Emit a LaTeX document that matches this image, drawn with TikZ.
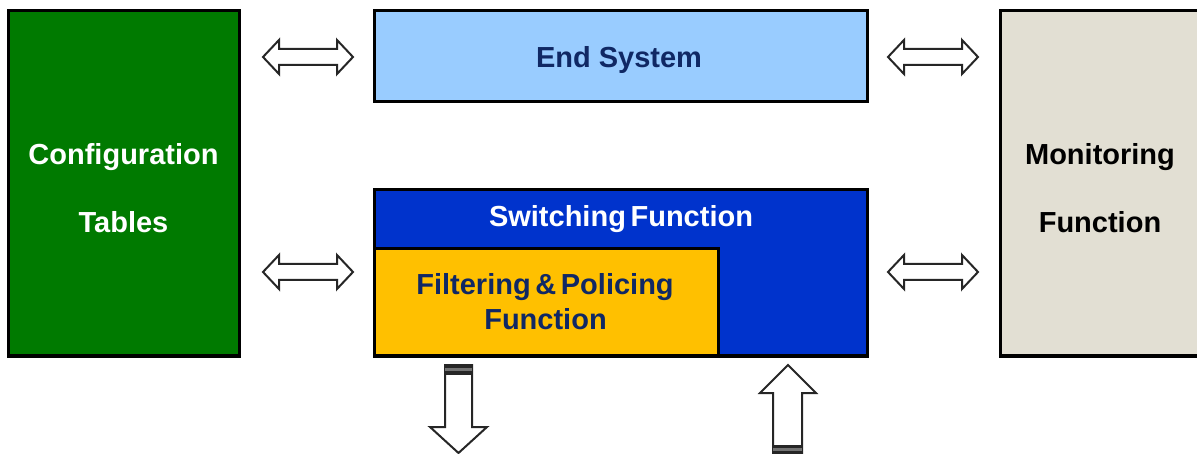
\documentclass[tikz,border=0pt]{standalone}
\usepackage{fontspec}
\setmainfont{Liberation Sans}
\definecolor{cfggreen}{RGB}{0,122,0}
\definecolor{eslblue}{RGB}{153,204,255}
\definecolor{swblue}{RGB}{0,51,204}
\definecolor{fpyellow}{RGB}{255,192,0}
\definecolor{mongray}{RGB}{226,223,211}
\definecolor{navytext}{RGB}{16,40,100}
\newcommand\lblfont{\fontsize{29}{34}\selectfont\bfseries}
\newcommand\tightsp{\spaceskip=4.6pt plus 1pt\relax}
\tikzset{
  blockbox/.style={draw=black, line width=3pt, inner sep=0pt},
  lbl/.style={font=\lblfont, inner sep=0pt, anchor=base},
  barrow/.style={draw=black!85, fill=white, line width=2pt, line join=miter},
}
\begin{document}
\begin{tikzpicture}[x=1pt,y=-1pt]
\useasboundingbox (0,0) rectangle (1197,454);
\begin{scope}
\clip (0,0) rectangle (1197,454);
% boxes
\draw[blockbox, fill=cfggreen] (8,11) rectangle (239,356);
\node (cfg) at (123.5,183.5) {};
\draw[blockbox, fill=eslblue] (374,11) rectangle (867,102);
\node (es) at (620.5,56.5) {};
\draw[blockbox, fill=swblue] (374,190) rectangle (867,356);
\node (sw) at (620.5,273) {};
\draw[blockbox, fill=fpyellow] (374,249) rectangle (718,356);
\node (fp) at (546,302.5) {};
\draw[blockbox, fill=mongray] (1000,11) rectangle (1210,356);
\node (mon) at (1100,183.5) {};

% labels
\node[lbl, text=white] (cfgA) at (123.5,165) {Configuration};
\node[lbl, text=white] (cfgB) at (123.5,233) {Tables};
\node[lbl, text=navytext] (esT) at (619,68) {End System};
\node[lbl, text=white] (swT) at (621,227) {\tightsp Switching Function};
\node[lbl, text=navytext] (fpA) at (545,295) {\tightsp Filtering \& Policing};
\node[lbl, text=navytext] (fpB) at (545.5,330) {Function};
\node[lbl, text=black] (monA) at (1100,165) {Monitoring};
\node[lbl, text=black] (monB) at (1100,233) {Function};

% double arrows
\foreach \xa/\yc/\nm in {263/57/da1, 263/272/da2, 888/57/da3, 888/272/da4}{
  \draw[barrow] (\xa,\yc) -- ++(16,-17) -- ++(0,9) -- ++(58,0) -- ++(0,-9)
     -- ++(16,17) -- ++(-16,17) -- ++(0,-9) -- ++(-58,0) -- ++(0,9) -- cycle;
}

% down arrow (out of filtering)
\draw[barrow] (445,365) -- (472,365) -- (472,427) -- (487,427) -- (458.5,453)
   -- (430,427) -- (445,427) -- cycle;
\fill[black!85] (445,364) rectangle (472,368);
\fill[black!55] (445,368) rectangle (472,371);
\fill[black!85] (445,371) rectangle (472,375);

% up arrow (into switching)
\draw[barrow] (788,365) -- (816,393) -- (802,393) -- (802,470) -- (773,470)
   -- (773,393) -- (760,393) -- cycle;
\fill[black!85] (773,445) rectangle (802,448);
\fill[black!55] (773,448) rectangle (802,451);
\fill[black!85] (773,451) rectangle (802,455);
\end{scope}
\end{tikzpicture}
\end{document}
